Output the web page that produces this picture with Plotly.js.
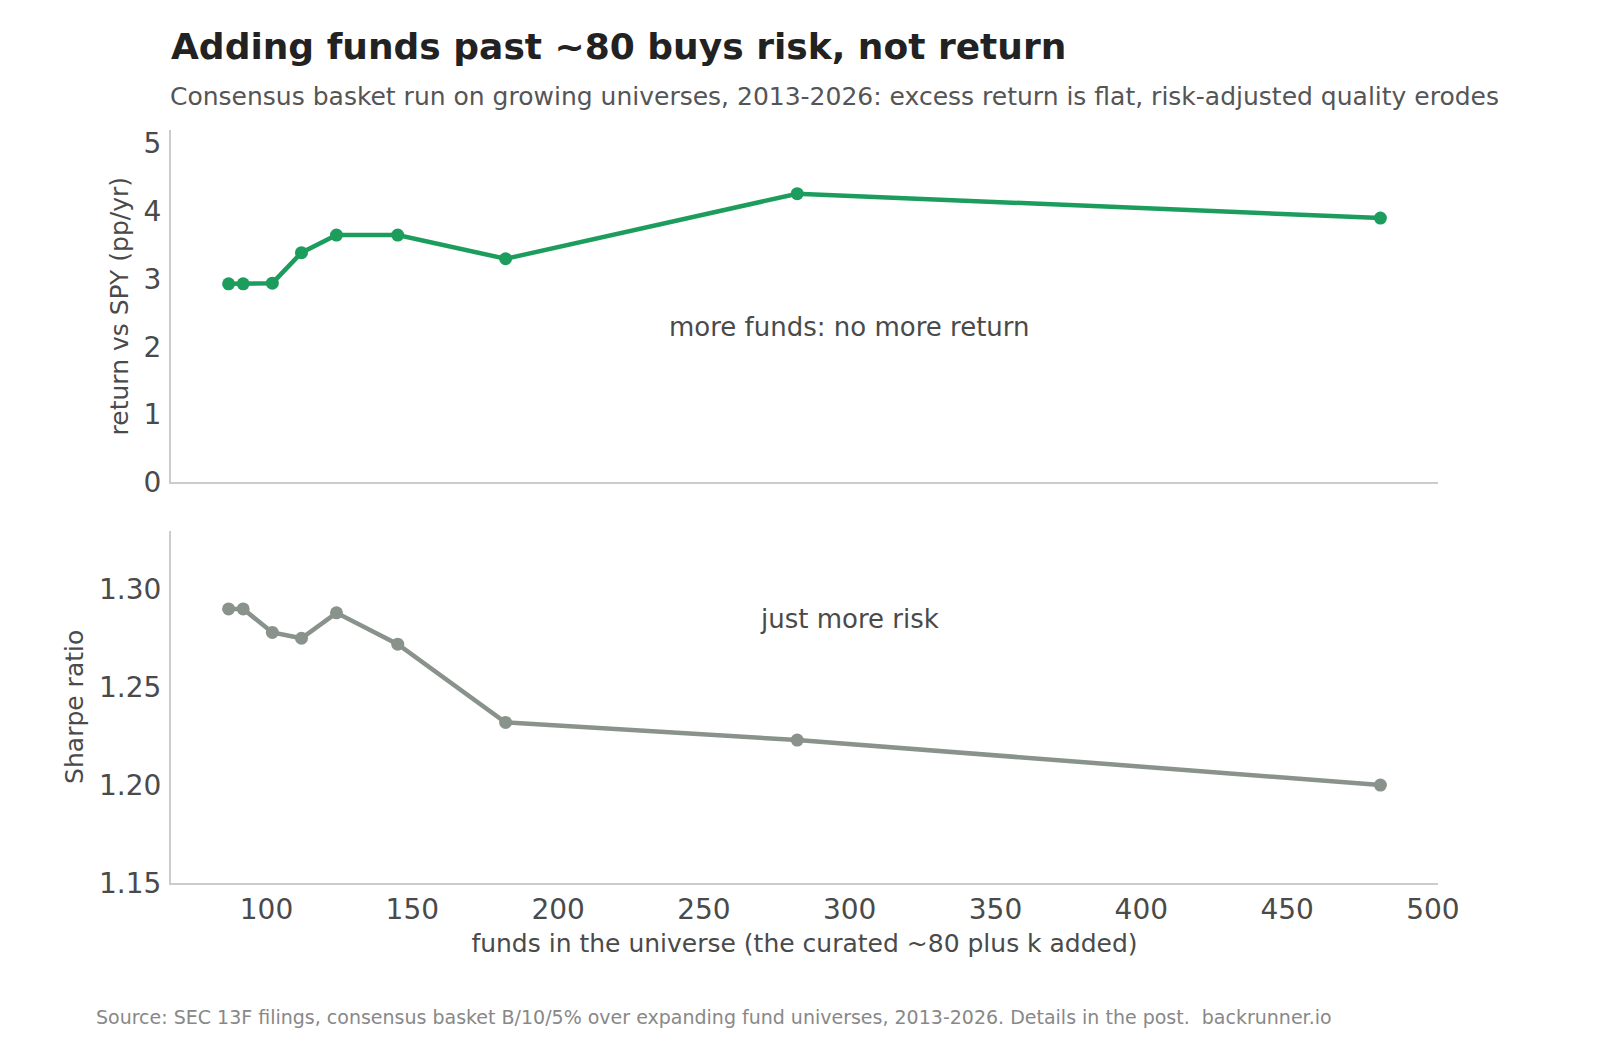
<!DOCTYPE html>
<html>
<head>
<meta charset="utf-8">
<script src="https://cdn.plot.ly/plotly-3.0.1.min.js"></script>
<style>
  body { margin: 0; background: #fff; }
  #chart { width: 1600px; height: 1040px; }
</style>
</head>
<body>
<div id="chart"></div>
<script>
// funds in the universe (curated ~80 plus k added)
var fundsInUniverse = [87, 92, 102, 112, 124, 145, 182, 282, 482];
// excess return vs SPY, pp/yr
var excessReturn = [2.93, 2.93, 2.94, 3.39, 3.65, 3.65, 3.30, 4.26, 3.90];
// Sharpe ratio of the consensus basket
var sharpeRatio = [1.290, 1.290, 1.278, 1.275, 1.288, 1.272, 1.232, 1.223, 1.200];

var returnTicks = [0, 1, 2, 3, 4, 5];
var sharpeTicks = [1.15, 1.20, 1.25, 1.30];
var xTicks = [100, 150, 200, 250, 300, 350, 400, 450, 500];

var green = '#1c9d5d';
var grey = '#89928b';
var font = 'DejaVu Sans, sans-serif';

var traceReturn = {
	x: fundsInUniverse,
	y: excessReturn,
	type: 'scatter',
	mode: 'lines+markers',
	line: {color: green, width: 4.5},
	marker: {color: green, size: 13},
	xaxis: 'x',
	yaxis: 'y',
	hoverinfo: 'skip'
};

var traceSharpe = {
	x: fundsInUniverse,
	y: sharpeRatio,
	type: 'scatter',
	mode: 'lines+markers',
	line: {color: grey, width: 4.5},
	marker: {color: grey, size: 13},
	xaxis: 'x2',
	yaxis: 'y2',
	hoverinfo: 'skip'
};

var axisLine = {
	showline: true,
	linecolor: '#cccccc',
	linewidth: 2,
	showgrid: false,
	zeroline: false,
	ticks: '',
	tickfont: {family: font, size: 28, color: '#4a4a4a'}
};

var layout = {
	width: 1600,
	height: 1040,
	paper_bgcolor: '#ffffff',
	plot_bgcolor: '#ffffff',
	showlegend: false,
	font: {family: font, color: '#4a4a4a'},
	margin: {l: 171, r: 162, t: 130, b: 157},
	title: {
		text: '<b>Adding funds past ~80 buys risk, not return</b>',
		font: {family: font, size: 36, color: '#222222'},
		xref: 'paper', x: 0, xanchor: 'left',
		yref: 'container', y: 1 - 46 / 1040, yanchor: 'middle'
	},
	xaxis: Object.assign({}, axisLine, {
		domain: [0, 1],
		anchor: 'y',
		range: [67.25, 501.75],
		tickvals: xTicks,
		showticklabels: false,
		matches: 'x2'
	}),
	yaxis: Object.assign({}, axisLine, {
		domain: [0.532, 1],
		anchor: 'x',
		range: [0, 5.2],
		tickvals: returnTicks,
		ticklabelstandoff: 2,
		title: {text: 'return vs SPY (pp/yr)', font: {family: font, size: 25, color: '#4a4a4a'}, standoff: 8}
	}),
	xaxis2: Object.assign({}, axisLine, {
		domain: [0, 1],
		anchor: 'y2',
		range: [67.25, 501.75],
		tickvals: xTicks,
		ticklabelstandoff: 0,
		title: {text: 'funds in the universe (the curated ~80 plus k added)', font: {family: font, size: 25, color: '#4a4a4a'}, standoff: 10}
	}),
	yaxis2: Object.assign({}, axisLine, {
		domain: [0, 0.468],
		anchor: 'x2',
		range: [1.15, 1.33],
		tickvals: sharpeTicks,
		tickformat: '.2f',
		ticklabelstandoff: 2,
		title: {text: 'Sharpe ratio', font: {family: font, size: 25, color: '#4a4a4a'}, standoff: 8}
	}),
	annotations: [
		{
			text: 'Consensus basket run on growing universes, 2013-2026: excess return is flat, risk-adjusted quality erodes',
			xref: 'paper', yref: 'paper', x: -3 / 1267, y: 1 + (130 - 96) / 753,
			xanchor: 'left', yanchor: 'middle', showarrow: false,
			font: {family: font, size: 25, color: '#555555'}
		},
		{
			text: 'more funds: no more return',
			xref: 'x', yref: 'y', x: 300, y: 2.3,
			xanchor: 'center', yanchor: 'middle', showarrow: false,
			font: {family: font, size: 26, color: '#4a4a4a'}
		},
		{
			text: 'just more risk',
			xref: 'x2', yref: 'y2', x: 300, y: 1.285,
			xanchor: 'center', yanchor: 'middle', showarrow: false,
			font: {family: font, size: 26, color: '#4a4a4a'}
		},
		{
			text: 'Source: SEC 13F filings, consensus basket B/10/5% over expanding fund universes, 2013-2026. Details in the post.  backrunner.io',
			xref: 'paper', yref: 'paper', x: (94 - 171) / 1267, y: -(1017 - 883) / 753,
			xanchor: 'left', yanchor: 'middle', showarrow: false,
			font: {family: font, size: 19, color: '#888888'}
		}
	]
};

Plotly.newPlot('chart', [traceReturn, traceSharpe], layout, {displayModeBar: false, staticPlot: true});
</script>
</body>
</html>
